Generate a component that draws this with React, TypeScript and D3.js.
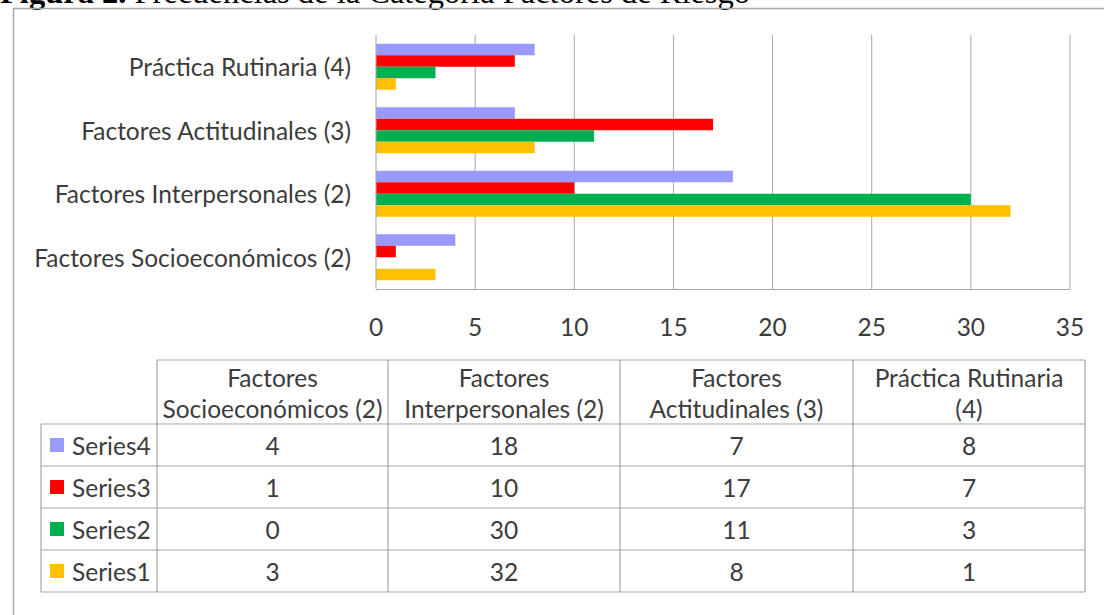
import React from "react";
import * as d3 from "d3";

const categories = [
  "Factores Socioeconómicos (2)",
  "Factores Interpersonales (2)",
  "Factores Actitudinales (3)",
  "Práctica Rutinaria (4)",
];
const headerLines = [
  ["Factores", "Socioeconómicos (2)"],
  ["Factores", "Interpersonales (2)"],
  ["Factores", "Actitudinales (3)"],
  ["Práctica Rutinaria", "(4)"],
];
const seriesNames = ["Series4", "Series3", "Series2", "Series1"];
const series4 = [4, 18, 7, 8];
const series3 = [1, 10, 17, 7];
const series2 = [0, 30, 11, 3];
const series1 = [3, 32, 8, 1];
const seriesValues = [series4, series3, series2, series1];
const seriesColors = ["#9999FF", "#FF0000", "#00B050", "#FFC000"];
const xTicks = [0, 5, 10, 15, 20, 25, 30, 35];

const FONT = "Lato, 'Open Sans', sans-serif";
const TEXT = "#3c3c3c";
const GRID = "#a6a6a6";
const FS = 24.5;

export default function App() {
  const x = d3.scaleLinear().domain([0, 35]).range([376, 1070]);
  const y = d3
    .scaleBand<string>()
    .domain([...categories].reverse())
    .range([35, 289])
    .paddingInner(0.276)
    .paddingOuter(0.138);
  const yInner = d3
    .scaleBand<string>()
    .domain(seriesNames)
    .range([0, y.bandwidth()]);

  // table geometry
  const colEdges = [41, 157, 388, 620, 853, 1085];
  const headerTop = 360;
  const rowEdges = [424, 466, 508, 550, 592];

  return (
    <svg
      width={1104}
      height={615}
      style={{ position: "absolute", left: 0, top: 0, background: "#fff" }}
    >
      <rect x={0} y={0} width={1104} height={615} fill="#fff" />
      {/* title, cut off at the top as in the source */}
      <text x={0} y={3} fontFamily="'Liberation Serif', 'Times New Roman', serif" fontSize={32.5} fill="#000">
        <tspan fontWeight="bold">Figura 2.</tspan>
        <tspan> Frecuencias de la Categoría Factores de Riesgo</tspan>
      </text>
      {/* frame */}
      <rect x={13.5} y={8.5} width={1200} height={700} fill="none" stroke="#a8a8a8" strokeWidth={1.5} />

      {/* gridlines */}
      {xTicks.slice(1).map((t) => (
        <line key={t} x1={x(t)} x2={x(t)} y1={35} y2={289} stroke={GRID} strokeWidth={1} />
      ))}
      {/* bars */}
      {categories.map((c, ci) => (
        <g key={c}>
          {seriesNames.map((s, si) => (
            <rect
              key={s}
              x={x(0)}
              y={(y(c) as number) + (yInner(s) as number)}
              width={x(seriesValues[si][ci]) - x(0)}
              height={yInner.bandwidth()}
              fill={seriesColors[si]}
            />
          ))}
        </g>
      ))}
      {/* axes */}
      <line x1={x(0)} x2={x(0)} y1={35} y2={289} stroke={GRID} />
      <line x1={x(0)} x2={x(35)} y1={289.5} y2={289.5} stroke={GRID} />
      {xTicks.map((t) => (
        <text key={t} x={x(t)} y={326} textAnchor="middle" dominantBaseline="central" fontFamily={FONT} fontSize={FS} fill={TEXT}>
          {t}
        </text>
      ))}
      {categories.map((c) => (
        <text
          key={c}
          x={351}
          y={(y(c) as number) + y.bandwidth() / 2}
          textAnchor="end"
          dominantBaseline="central"
          fontFamily={FONT}
          fontSize={FS}
          fill={TEXT}
        >
          {c}
        </text>
      ))}

      {/* data table */}
      <g stroke={GRID} strokeWidth={1.2} fill="none">
        <line x1={colEdges[1]} x2={colEdges[5]} y1={headerTop} y2={headerTop} />
        {rowEdges.map((r) => (
          <line key={r} x1={colEdges[0]} x2={colEdges[5]} y1={r} y2={r} />
        ))}
        <line x1={colEdges[0]} x2={colEdges[0]} y1={rowEdges[0]} y2={rowEdges[4]} />
        {colEdges.slice(1).map((cx) => (
          <line key={cx} x1={cx} x2={cx} y1={headerTop} y2={rowEdges[4]} />
        ))}
      </g>
      {headerLines.map((lines, ci) => {
        const cx = (colEdges[ci + 1] + colEdges[ci + 2]) / 2;
        return lines.map((ln, li) => (
          <text key={ci + "-" + li} x={cx} y={377 + li * 31} textAnchor="middle" dominantBaseline="central" fontFamily={FONT} fontSize={FS} fill={TEXT}>
            {ln}
          </text>
        ));
      })}
      {seriesNames.map((s, si) => {
        const cy = (rowEdges[si] + rowEdges[si + 1]) / 2;
        return (
          <g key={s}>
            <rect x={50} y={cy - 7} width={14} height={14} fill={seriesColors[si]} />
            <text x={72} y={cy} dominantBaseline="central" fontFamily={FONT} fontSize={FS} fill={TEXT}>
              {s}
            </text>
            {seriesValues[si].map((v, ci) => (
              <text
                key={ci}
                x={(colEdges[ci + 1] + colEdges[ci + 2]) / 2}
                y={cy}
                textAnchor="middle"
                dominantBaseline="central"
                fontFamily={FONT}
                fontSize={FS}
                fill={TEXT}
              >
                {v}
              </text>
            ))}
          </g>
        );
      })}
    </svg>
  );
}
